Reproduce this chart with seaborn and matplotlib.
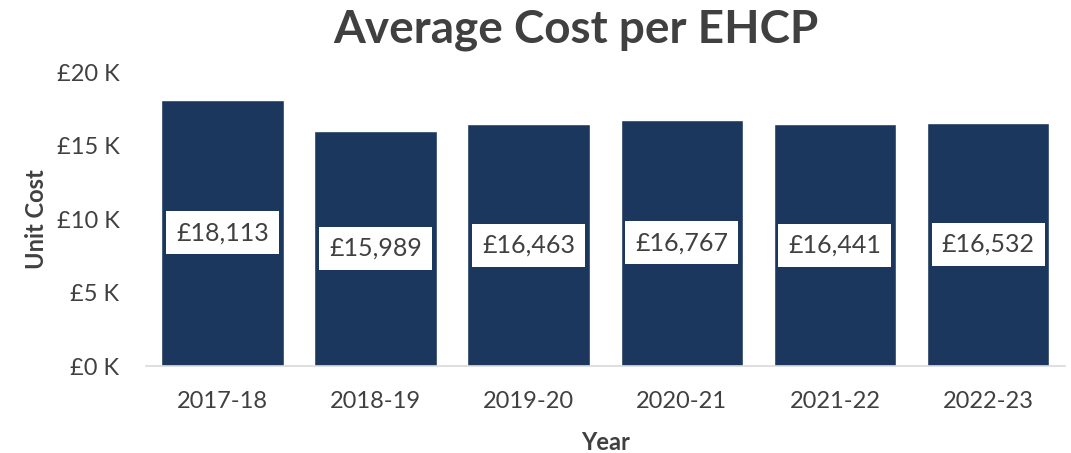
import matplotlib
matplotlib.use("Agg")
import matplotlib.pyplot as plt
import seaborn as sns
import pandas as pd

years = ["2017-18", "2018-19", "2019-20", "2020-21", "2021-22", "2022-23"]
unit_cost = [18113, 15989, 16463, 16767, 16441, 16532]
y_ticks = [0, 5000, 10000, 15000, 20000]
y_tick_labels = ["£0 K", "£5 K", "£10 K", "£15 K", "£20 K"]

sns.set_theme(style="white")
plt.rcParams["font.family"] = ["Lato", "DejaVu Sans"]

text_color = "#404040"
bar_color = "#1B375E"

df = pd.DataFrame({"Year": years, "Unit Cost": unit_cost})

fig = plt.figure(figsize=(10.71, 4.53), dpi=100)
ax = fig.add_axes([0.1363, 0.192, 0.8577, 0.649])

sns.barplot(data=df, x="Year", y="Unit Cost", color=bar_color, width=0.8,
            saturation=1, ax=ax)

ax.set_ylim(0, 20000)
ax.set_xlim(-0.5, len(years) - 0.5)
ax.set_yticks(y_ticks)
ax.set_yticklabels(y_tick_labels)
ax.tick_params(axis="y", length=0, pad=19, labelsize=17, labelcolor=text_color)
ax.tick_params(axis="x", length=0, pad=18, labelsize=17, labelcolor=text_color)

for side in ["top", "right", "left"]:
    ax.spines[side].set_visible(False)
ax.spines["bottom"].set_color("#D9D9D9")
ax.spines["bottom"].set_linewidth(1.2)

ax.set_xlabel("Year", fontsize=17, fontweight="bold", color=text_color, labelpad=14)
ax.set_ylabel("Unit Cost", fontsize=17, fontweight="bold", color=text_color, labelpad=6)

# value labels in white boxes at mid-bar height
for i, v in enumerate(unit_cost):
    ax.text(i, v / 2, f"£{v:,}", ha="center", va="center", fontsize=18,
            color=text_color,
            bbox=dict(boxstyle="square,pad=0.4", facecolor="white", edgecolor="none"))

fig.text(576 / 1071, 1 - 30 / 453, "Average Cost per EHCP", ha="center", va="center",
         fontsize=33, fontweight="bold", color=text_color)

fig.savefig("out.png", dpi=100)
